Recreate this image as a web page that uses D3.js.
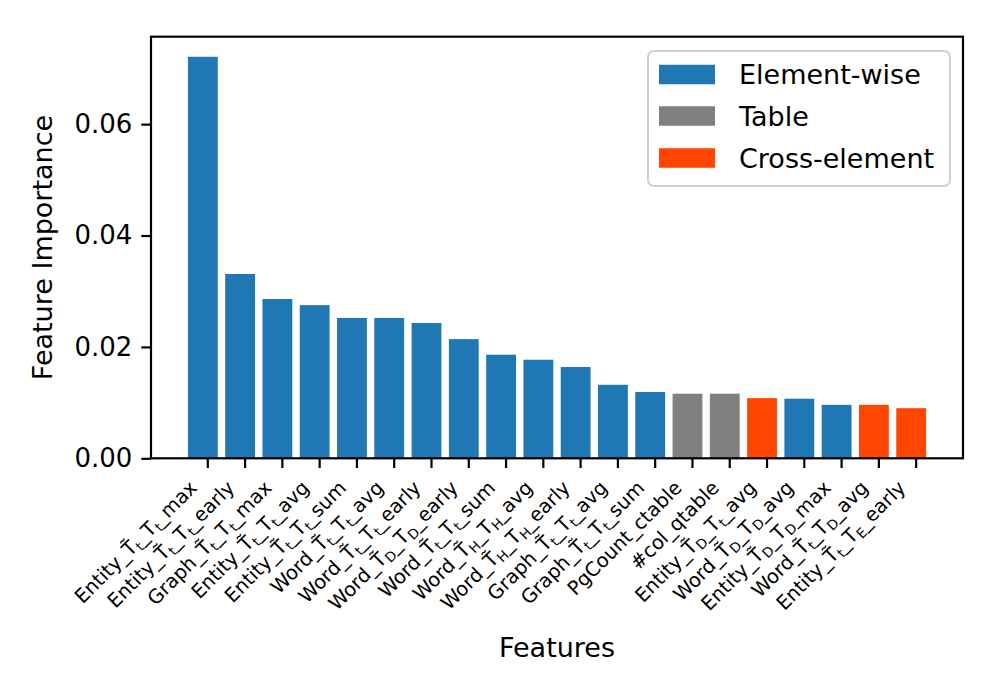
<!DOCTYPE html>
<html>
<head>
<meta charset="utf-8">
<script src="https://cdn.jsdelivr.net/npm/d3@7"></script>
<style>
  body { margin: 0; background: #fff; }
  svg { font-family: "DejaVu Sans", sans-serif; }
</style>
</head>
<body>
<svg id="chart" width="1000" height="700"></svg>
<script>
// Feature labels: "~T" = T with tilde, "{x}" = subscript x
const features = [
  "Entity_~T{t}_T{t}_max",
  "Entity_~T{t}_T{t}_early",
  "Graph_~T{t}_T{t}_max",
  "Entity_~T{t}_T{t}_avg",
  "Entity_~T{t}_T{t}_sum",
  "Word_~T{t}_T{t}_avg",
  "Word_~T{t}_T{t}_early",
  "Word_~T{D}_T{D}_early",
  "Word_~T{t}_T{t}_sum",
  "Word_~T{H}_T{H}_avg",
  "Word_~T{H}_T{H}_early",
  "Graph_~T{t}_T{t}_avg",
  "Graph_~T{t}_T{t}_sum",
  "PgCount_ctable",
  "#col_qtable",
  "Entity_~T{D}_T{t}_avg",
  "Word_~T{D}_T{D}_avg",
  "Entity_~T{D}_T{D}_max",
  "Word_~T{t}_T{D}_avg",
  "Entity_~T{t}_T{E}_early"
];
const importance = [
  0.0721, 0.0331, 0.0286, 0.0275, 0.0252, 0.0252, 0.0243, 0.0214, 0.0186, 0.0177,
  0.0164, 0.0132, 0.0119, 0.0116, 0.0116, 0.0108, 0.0107, 0.0096, 0.0096, 0.0090
];
const featureGroup = [
  "Element-wise","Element-wise","Element-wise","Element-wise","Element-wise",
  "Element-wise","Element-wise","Element-wise","Element-wise","Element-wise",
  "Element-wise","Element-wise","Element-wise","Table","Table",
  "Cross-element","Element-wise","Element-wise","Cross-element","Cross-element"
];
const groups = ["Element-wise", "Table", "Cross-element"];
const groupColors = ["#1f77b4", "#808080", "#ff4500"];
const yTicks = [0, 0.02, 0.04, 0.06];

const svg = d3.select("#chart");
const L = 151, R = 963, T = 36.7, B = 458.3;
const n = features.length;
const x = d3.scaleLinear().domain([-1.39, n - 1 + 1.39]).range([L, R]);
const y = d3.scaleLinear().domain([0, 0.0757]).range([B, T]);
const color = d3.scaleOrdinal().domain(groups).range(groupColors);
const barW = x(0.8) - x(0);
const tickOff = 0.12;

// bars
svg.append("g").selectAll("rect").data(importance).join("rect")
  .attr("x", (d, i) => x(i) - barW / 2)
  .attr("y", d => y(d))
  .attr("width", barW)
  .attr("height", d => B - y(d))
  .attr("fill", (d, i) => color(featureGroup[i]));

// y axis
const yAxis = svg.append("g").attr("transform", `translate(${L},0)`)
  .call(d3.axisLeft(y).tickValues(yTicks).tickFormat(d3.format(".2f")).tickSize(9.7).tickPadding(9))
  ;
yAxis.select(".domain").remove();
yAxis.selectAll(".tick line").attr("stroke", "#000").attr("stroke-width", 2.2);
yAxis.selectAll(".tick text").attr("font-size", "26px").attr("fill", "#000")
  .attr("font-family", "DejaVu Sans");

// x axis ticks
const xAxis = svg.append("g").attr("transform", `translate(0,${B})`)
  .call(d3.axisBottom(x).tickValues(d3.range(n).map(i => i + tickOff)).tickFormat("").tickSize(9.7));
xAxis.select(".domain").remove();
xAxis.selectAll(".tick line").attr("stroke", "#000").attr("stroke-width", 2.2);

// x tick labels (rotated)
const labelFs = 19.5;
const lg = svg.append("g");
features.forEach((f, i) => {
  const ex = x(i + tickOff) - 9;
  const ey = 489;
  const t = lg.append("text")
    .attr("transform", `translate(${ex},${ey}) rotate(-45)`)
    .attr("text-anchor", "end")
    .attr("font-size", labelFs + "px")
    .attr("fill", "#000");
  const parts = f.split(/(\{[^}]*\})/).filter(s => s.length);
  let inSub = false;
  parts.forEach(p => {
    if (p.startsWith("{")) {
      t.append("tspan").text(p.slice(1, -1))
        .attr("font-size", (labelFs * 0.7) + "px")
        .attr("dy", 4);
      inSub = true;
    } else {
      const ts = t.append("tspan").text(p.replace(/~T/g, "T\u0303"));
      if (inSub) ts.attr("dy", -4);
      inSub = false;
    }
  });
});

// frame
svg.append("rect").attr("x", L).attr("y", T).attr("width", R - L).attr("height", B - T)
  .attr("fill", "none").attr("stroke", "#000").attr("stroke-width", 2.2);

// axis labels
svg.append("text").attr("transform", `translate(52,${(T + B) / 2}) rotate(-90)`)
  .attr("text-anchor", "middle").attr("font-size", "27px").text("Feature Importance");
svg.append("text").attr("x", (L + R) / 2).attr("y", 657)
  .attr("text-anchor", "middle").attr("font-size", "27px").text("Features");

// legend
const leg = svg.append("g");
leg.append("rect").attr("x", 648).attr("y", 51).attr("width", 302).attr("height", 135)
  .attr("rx", 6).attr("fill", "#fff").attr("fill-opacity", 0.8)
  .attr("stroke", "#d0d0d0").attr("stroke-width", 2);
const rowY = [74.5, 116, 158];
groups.forEach((g, k) => {
  leg.append("rect").attr("x", 659).attr("y", rowY[k] - 9.75).attr("width", 56).attr("height", 19.5)
    .attr("fill", color(g));
  leg.append("text").attr("x", 739).attr("y", rowY[k]).attr("dominant-baseline", "central")
    .attr("font-size", "27px").attr("fill", "#000").text(g);
});
</script>
</body>
</html>
